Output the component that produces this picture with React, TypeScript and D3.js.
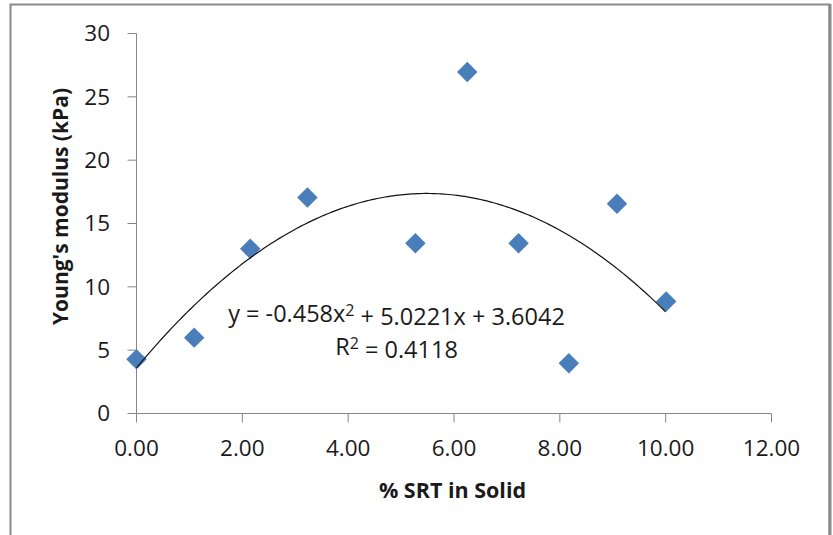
import React from "react";
import * as d3 from "d3";

const srtPercent = [0, 1.09, 2.15, 3.23, 5.27, 6.25, 7.22, 8.17, 9.08, 10.01];
const youngsModulus = [4.28, 5.99, 13.0, 17.06, 13.45, 26.97, 13.45, 3.97, 16.56, 8.84];
const xTicks = [0, 2, 4, 6, 8, 10, 12];
const yTicks = [0, 5, 10, 15, 20, 25, 30];
const trendCoef = [-0.458, 5.0221, 3.6042]; // a, b, c
const trendRange = [0, 10];
const equationText = ["y = -0.458x", "2", " + 5.0221x + 3.6042"];
const r2Text = ["R", "2", " = 0.4118"];
const xTitle = "% SRT in Solid";
const yTitle = "Young's modulus (kPa)";

const W = 833;
const H = 535;
const FONT = "'Open Sans', 'Liberation Sans', sans-serif";

export default function App() {
  const x = d3.scaleLinear().domain([0, 12]).range([136.5, 771.5]);
  const y = d3.scaleLinear().domain([0, 30]).range([413.5, 33.5]);
  const axisColor = "#868686";

  const trendPts: [number, number][] = d3
    .range(0, 201)
    .map((i) => trendRange[0] + ((trendRange[1] - trendRange[0]) * i) / 200)
    .map((v) => [v, trendCoef[0] * v * v + trendCoef[1] * v + trendCoef[2]]);
  const line = d3
    .line<[number, number]>()
    .x((d) => x(d[0]))
    .y((d) => y(d[1]));

  const diamondPath = d3.symbol().type(d3.symbolSquare).size(210)();

  return (
    <svg
      width={W}
      height={H}
      style={{ position: "absolute", left: 0, top: 0, background: "#fff" }}
      fontFamily={FONT}
    >
      <rect x={0} y={0} width={W} height={H} fill="#fff" />
      {/* chart frame */}
      <rect x={10.5} y={4.5} width={819} height={545} fill="none" stroke="#8a8a8a" strokeWidth={2} />
      <line x1={830} y1={4} x2={830} y2={H} stroke="#8a8a8a" strokeWidth={3} />

      {/* y axis */}
      <line x1={x(0)} y1={y(0)} x2={x(0)} y2={y(30)} stroke={axisColor} strokeWidth={1} />
      {yTicks.map((t) => (
        <g key={"y" + t}>
          <line x1={x(0) - 9} x2={x(0)} y1={y(t)} y2={y(t)} stroke={axisColor} strokeWidth={1} />
          <text x={110} y={y(t)} dy="0.35em" textAnchor="end" fontSize={22.5} fill="#1a1a1a">
            {t}
          </text>
        </g>
      ))}

      {/* x axis */}
      <line x1={x(0)} y1={y(0)} x2={x(12)} y2={y(0)} stroke={axisColor} strokeWidth={1} />
      {xTicks.map((t) => (
        <g key={"x" + t}>
          <line x1={x(t)} x2={x(t)} y1={y(0)} y2={y(0) + 9} stroke={axisColor} strokeWidth={1} />
          <text x={x(t)} y={448} dy="0.35em" textAnchor="middle" fontSize={22.5} fill="#1a1a1a">
            {d3.format(".2f")(t)}
          </text>
        </g>
      ))}

      {/* axis titles */}
      <text x={452.5} y={490} dy="0.35em" textAnchor="middle" fontSize={21.5} fontWeight="bold" fill="#1a1a1a">
        {xTitle}
      </text>
      <text
        transform={`translate(61,206.5) rotate(-90)`}
        dy="0.35em"
        textAnchor="middle"
        fontSize={21}
        fontWeight="bold"
        fill="#1a1a1a"
      >
        {yTitle}
      </text>

      {/* points */}
      {srtPercent.map((v, i) => (
        <path
          key={"p" + i}
          d={diamondPath}
          transform={`translate(${x(v)},${y(youngsModulus[i])}) rotate(45)`}
          fill="#4A7EBB"
        />
      ))}

      {/* trendline */}
      <path d={line(trendPts) || ""} fill="none" stroke="#111" strokeWidth={1.2} />

      {/* equation */}
      <text x={396.5} y={314} dy="0.35em" textAnchor="middle" fontSize={23.5} fill="#1a1a1a">
        {equationText[0]}
        <tspan dy="-0.4em" fontSize={16}>{equationText[1]}</tspan>
        <tspan dy="0.4em">{equationText[2]}</tspan>
      </text>
      <text x={396.5} y={347} dy="0.35em" textAnchor="middle" fontSize={23.5} fill="#1a1a1a">
        {r2Text[0]}
        <tspan dy="-0.4em" fontSize={16}>{r2Text[1]}</tspan>
        <tspan dy="0.4em">{r2Text[2]}</tspan>
      </text>
    </svg>
  );
}
